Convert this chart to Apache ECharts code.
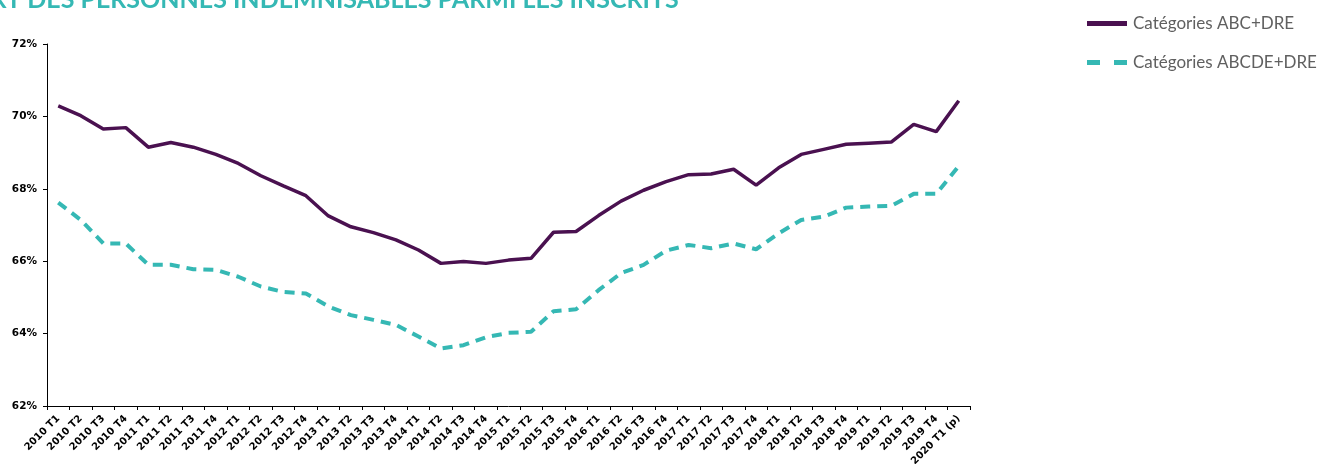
<!DOCTYPE html>
<html>
<head>
<meta charset="utf-8">
<script src="https://cdn.jsdelivr.net/npm/echarts@6/dist/echarts.min.js"></script>
<style>
  html, body { margin: 0; padding: 0; background: #fff; }
  #chart { width: 1333px; height: 464px; }
</style>
</head>
<body>
<div id="chart"></div>
<script>
// trimestres
const categories = [
  '2010 T1','2010 T2','2010 T3','2010 T4','2011 T1','2011 T2','2011 T3','2011 T4',
  '2012 T1','2012 T2','2012 T3','2012 T4','2013 T1','2013 T2','2013 T3','2013 T4',
  '2014 T1','2014 T2','2014 T3','2014 T4','2015 T1','2015 T2','2015 T3','2015 T4',
  '2016 T1','2016 T2','2016 T3','2016 T4','2017 T1','2017 T2','2017 T3','2017 T4',
  '2018 T1','2018 T2','2018 T3','2018 T4','2019 T1','2019 T2','2019 T3','2019 T4',
  '2020 T1 (p)'
];
const seriesNames = ['Catégories ABC+DRE', 'Catégories ABCDE+DRE'];
// part des indemnisables (%)
const abcDre = [
  70.29, 70.02, 69.65, 69.69, 69.15, 69.28, 69.15, 68.95, 68.70, 68.36,
  68.08, 67.81, 67.25, 66.95, 66.79, 66.59, 66.31, 65.94, 65.99, 65.94,
  66.03, 66.08, 66.80, 66.82, 67.26, 67.66, 67.96, 68.20, 68.39, 68.41,
  68.54, 68.10, 68.58, 68.95, 69.09, 69.23, 69.26, 69.29, 69.78, 69.58,
  70.43
];
const abcdeDre = [
  67.62, 67.14, 66.49, 66.49, 65.90, 65.90, 65.78, 65.76, 65.57, 65.30,
  65.15, 65.11, 64.75, 64.51, 64.38, 64.24, 63.92, 63.59, 63.68, 63.90,
  64.02, 64.05, 64.62, 64.67, 65.20, 65.67, 65.90, 66.29, 66.45, 66.36,
  66.49, 66.33, 66.77, 67.14, 67.23, 67.48, 67.51, 67.53, 67.86, 67.86,
  68.63
];
const yMin = 62, yMax = 72, yStep = 2;

const purple = '#4a1150';
const teal = '#35b8b4';

const chart = echarts.init(document.getElementById('chart'));

const option = {
  backgroundColor: '#ffffff',
  animation: false,
  title: {
    text: 'PART DES PERSONNES INDEMNISABLES PARMI LES INSCRITS',
    left: -46,
    top: -18,
    textStyle: {
      fontFamily: 'Lato',
      fontWeight: 'bold',
      fontSize: 25,
      color: teal
    }
  },
  legend: {
    orient: 'vertical',
    left: 1082,
    top: 10,
    itemWidth: 40,
    itemHeight: 5,
    itemGap: 22,
    textStyle: {
      fontFamily: 'Lato',
      fontSize: 17,
      color: '#606060',
      padding: [0, 0, 0, 1]
    },
    data: [
      { name: seriesNames[0], icon: 'rect', itemStyle: { color: purple } },
      { name: seriesNames[1], icon: 'path://M0,0h13v5h-13z M27,0h13v5h-13z', itemStyle: { color: teal } }
    ]
  },
  grid: {
    left: 47,
    right: 363,
    top: 44,
    bottom: 58,
    containLabel: false,
    outerBoundsMode: 'none'
  },
  xAxis: {
    type: 'category',
    data: categories,
    boundaryGap: true,
    axisLine: { lineStyle: { color: '#000', width: 1 } },
    axisTick: { show: true, length: 4, lineStyle: { color: '#000' } },
    axisLabel: {
      interval: 0,
      rotate: 45,
      margin: 11,
      fontFamily: 'DejaVu Sans',
      fontWeight: 'bold',
      fontSize: 10,
      color: '#000'
    }
  },
  yAxis: {
    type: 'value',
    min: yMin,
    max: yMax,
    interval: yStep,
    axisLine: { show: true, lineStyle: { color: '#000', width: 1 } },
    axisTick: { show: true, length: 4, lineStyle: { color: '#000' } },
    splitLine: { show: false },
    axisLabel: {
      formatter: '{value}%',
      margin: 10,
      fontFamily: 'DejaVu Sans',
      fontWeight: 'bold',
      fontSize: 10.5,
      color: '#000'
    }
  },
  series: [
    {
      name: seriesNames[0],
      type: 'line',
      data: abcDre,
      symbol: 'none',
      color: purple,
      lineStyle: { color: purple, width: 3.5 },
      z: 3
    },
    {
      name: seriesNames[1],
      type: 'line',
      data: abcdeDre,
      symbol: 'none',
      color: teal,
      lineStyle: { color: teal, width: 4, type: [10, 7] },
      z: 2
    }
  ]
};

chart.setOption(option);
</script>
</body>
</html>
